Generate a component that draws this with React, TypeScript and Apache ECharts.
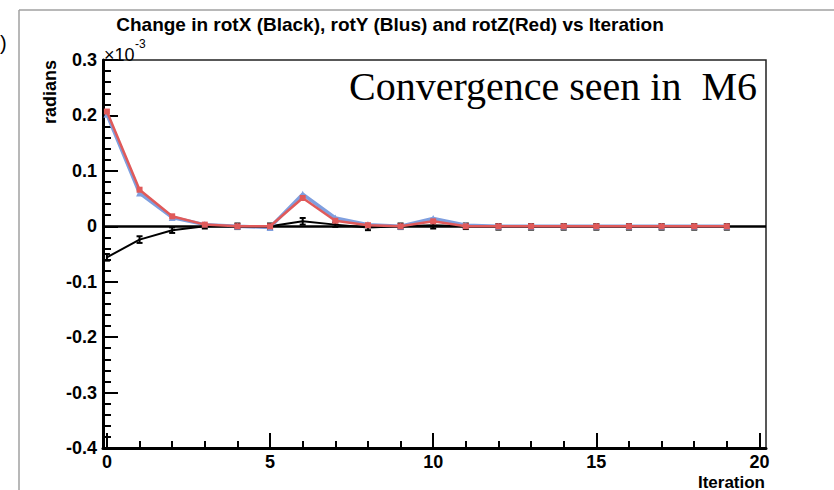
import React, { useEffect, useRef } from "react";
import * as echarts from "echarts";

const iterations = [0, 1, 2, 3, 4, 5, 6, 7, 8, 9, 10, 11, 12, 13, 14, 15, 16, 17, 18, 19];
// values in units of 1e-3 radians
const rotX = [-0.056, -0.024, -0.007, 0.0, 0.0, 0.0, 0.009, 0.003, -0.002, 0.0, 0.002, 0.0, -0.001, -0.001, -0.001, -0.001, -0.001, -0.001, -0.001, -0.001];
const rotXErr = [0.006, 0.006, 0.005, 0.004, 0.005, 0.005, 0.006, 0.004, 0.005, 0.005, 0.006, 0.005, 0.005, 0.005, 0.005, 0.005, 0.005, 0.005, 0.005, 0.005];
const rotY = [0.202, 0.06, 0.016, 0.003, 0.0, -0.002, 0.058, 0.015, 0.003, 0.0, 0.014, 0.002, 0.0, 0.0, 0.0, 0.0, 0.0, 0.0, 0.0, 0.0];
const rotZ = [0.207, 0.066, 0.018, 0.003, 0.0, 0.0, 0.051, 0.01, 0.002, 0.0, 0.009, 0.0, 0.0, 0.0, 0.0, 0.0, 0.0, 0.0, 0.0, 0.0];
const xMajorTicks = [0, 5, 10, 15, 20];
const xMinorTicks = [1, 2, 3, 4, 6, 7, 8, 9, 11, 12, 13, 14, 16, 17, 18, 19];

const FONT = "Liberation Sans, Arial, sans-serif";

export default function App() {
  const ref = useRef<HTMLDivElement>(null);
  useEffect(() => {
    if (!ref.current) return;
    const chart = echarts.init(ref.current, null, { renderer: "svg" });
    const option: any = {
      animation: false,
      backgroundColor: "#ffffff",
      grid: {
        left: 103,
        top: 60,
        width: 663,
        height: 388,
        show: true,
        borderColor: "#222",
        borderWidth: 1.5,
        backgroundColor: "transparent",
      },
      xAxis: [
        {
          type: "value",
          min: -0.12,
          max: 20.2,
          position: "bottom",
          axisLine: { show: true, onZero: false, lineStyle: { color: "#000", width: 3 } },
          axisTick: { show: true, inside: true, length: 15, customValues: xMajorTicks, lineStyle: { color: "#000", width: 2 } },
          axisLabel: {
            show: true,
            customValues: xMajorTicks,
            fontFamily: FONT,
            fontWeight: "bold",
            fontSize: 18,
            color: "#000",
            margin: 5,
          },
          splitLine: { show: false },
        },
        {
          type: "value",
          min: -0.12,
          max: 20.2,
          position: "bottom",
          axisLine: { show: false, onZero: false },
          axisTick: { show: true, inside: true, length: 7, customValues: xMinorTicks, lineStyle: { color: "#000", width: 2 } },
          axisLabel: { show: false },
          splitLine: { show: false },
        },
      ],
      yAxis: {
        type: "value",
        min: -0.4,
        max: 0.3,
        interval: 0.1,
        axisLine: { show: true, onZero: false, lineStyle: { color: "#000", width: 3 } },
        axisTick: { show: true, inside: true, length: 15, lineStyle: { color: "#000", width: 2 } },
        minorTick: { show: true, splitNumber: 5, length: 8, lineStyle: { color: "#000", width: 2 } },
        axisLabel: {
          fontFamily: FONT,
          fontWeight: "bold",
          fontSize: 18,
          color: "#000",
          margin: 6,
          formatter: (v: number) => String(Math.round(v * 10) / 10),
        },
        splitLine: { show: false },
      },
      series: [
        {
          name: "rotX err",
          type: "custom",
          xAxisIndex: 0,
          z: 2,
          data: iterations.map((x, i) => [x, rotX[i], rotXErr[i]]),
          renderItem: (params: any, api: any) => {
            const x = api.value(0);
            const y = api.value(1);
            const e = api.value(2);
            const top = api.coord([x, y + e]);
            const bot = api.coord([x, y - e]);
            const st = { stroke: "#000", lineWidth: 2 };
            return {
              type: "group",
              children: [
                { type: "line", shape: { x1: top[0], y1: top[1], x2: bot[0], y2: bot[1] }, style: st },
                { type: "line", shape: { x1: top[0] - 3, y1: top[1], x2: top[0] + 3, y2: top[1] }, style: st },
                { type: "line", shape: { x1: bot[0] - 3, y1: bot[1], x2: bot[0] + 3, y2: bot[1] }, style: st },
              ],
            };
          },
        },
        {
          name: "rotX",
          type: "line",
          xAxisIndex: 0,
          z: 3,
          data: iterations.map((x, i) => [x, rotX[i]]),
          showSymbol: false,
          lineStyle: { color: "#000", width: 2 },
          itemStyle: { color: "#000" },
          markLine: {
            silent: true,
            symbol: ["none", "none"],
            label: { show: false },
            lineStyle: { color: "#000", width: 2.5, type: "solid" },
            data: [{ yAxis: 0 }],
          },
        },
        {
          name: "rotY",
          type: "line",
          xAxisIndex: 0,
          z: 4,
          data: iterations.map((x, i) => [x, rotY[i]]),
          symbol: "triangle",
          symbolSize: 7,
          lineStyle: { color: "#7f9fdf", width: 3.5 },
          itemStyle: { color: "#7f9fdf" },
        },
        {
          name: "rotZ",
          type: "line",
          xAxisIndex: 0,
          z: 5,
          data: iterations.map((x, i) => [x, rotZ[i]]),
          symbol: "rect",
          symbolSize: 6,
          lineStyle: { color: "#e05a5a", width: 2.5 },
          itemStyle: { color: "#e05a5a" },
        },
      ],
      graphic: [
        { type: "line", shape: { x1: 19, y1: 10, x2: 19, y2: 490 }, style: { stroke: "#a0a0a0", lineWidth: 1.5 } },
        { type: "line", shape: { x1: 19, y1: 10, x2: 834, y2: 10 }, style: { stroke: "#a0a0a0", lineWidth: 1.5 } },
        {
          type: "text",
          x: 0,
          y: 43,
          style: { text: ")", font: "20px " + FONT, fill: "#000", textVerticalAlign: "middle" },
        },
        {
          type: "text",
          x: 390,
          y: 24,
          style: {
            text: "Change in rotX (Black), rotY (Blus) and rotZ(Red) vs Iteration",
            font: "bold 19px " + FONT,
            fill: "#000",
            textAlign: "center",
            textVerticalAlign: "middle",
          },
        },
        {
          type: "text",
          x: 104,
          y: 55,
          style: { text: "×10", font: "18px " + FONT, fill: "#000", textVerticalAlign: "middle" },
        },
        {
          type: "text",
          x: 135,
          y: 44,
          style: { text: "-3", font: "12px " + FONT, fill: "#000", textVerticalAlign: "middle" },
        },
        {
          type: "text",
          x: 50,
          y: 92,
          rotation: Math.PI / 2,
          style: {
            text: "radians",
            font: "bold 18px " + FONT,
            fill: "#000",
            textAlign: "center",
            textVerticalAlign: "middle",
          },
        },
        {
          type: "text",
          x: 765,
          y: 482,
          style: {
            text: "Iteration",
            font: "bold 17px " + FONT,
            fill: "#000",
            textAlign: "right",
            textVerticalAlign: "middle",
          },
        },
        {
          type: "text",
          x: 757,
          y: 86,
          style: {
            text: "Convergence seen in  M6",
            font: "40px Liberation Serif, Times New Roman, serif",
            fill: "#000",
            textAlign: "right",
            textVerticalAlign: "middle",
          },
        },
      ],
    };
    chart.setOption(option);
    return () => chart.dispose();
  }, []);
  return <div ref={ref} style={{ position: "fixed", left: 0, top: 0, width: 834, height: 490 }} />;
}
